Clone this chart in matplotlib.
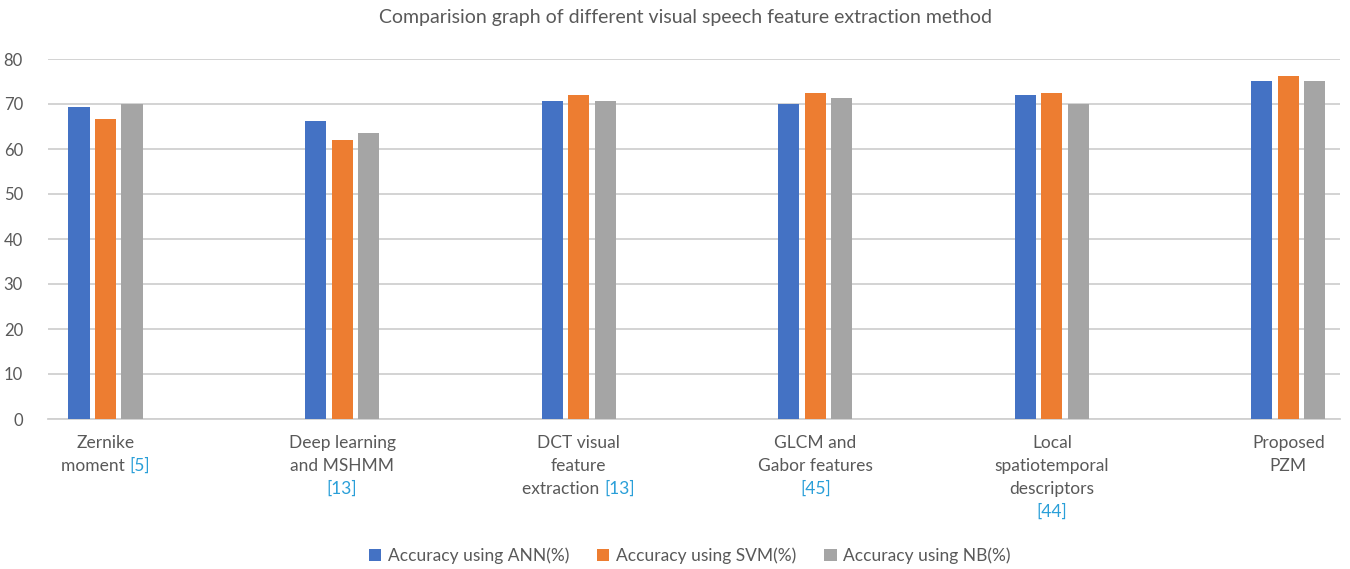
import re
import matplotlib
matplotlib.use("Agg")
import matplotlib.pyplot as plt
import matplotlib.transforms as mtransforms
import numpy as np

categories = [
    "Zernike\nmoment [5]",
    "Deep learning\nand MSHMM\n[13]",
    "DCT visual\nfeature\nextraction [13]",
    "GLCM and\nGabor features\n[45]",
    "Local\nspatiotemporal\ndescriptors\n[44]",
    "Proposed\nPZM",
]
series_names = ["Accuracy using ANN(%)", "Accuracy using SVM(%)", "Accuracy using NB(%)"]
ann = [69.3, 66.2, 70.7, 70.0, 72.0, 75.1]
svm = [66.7, 62.0, 72.0, 72.4, 72.4, 76.2]
nb = [70.0, 63.6, 70.7, 71.3, 70.0, 75.1]
yticks = [0, 10, 20, 30, 40, 50, 60, 70, 80]

colors = ["#4472C4", "#ED7D31", "#A5A5A5"]
text_gray = "#595959"
cite_blue = "#2A9FD8"

plt.rcParams["font.family"] = ["Lato", "DejaVu Sans"]

fig = plt.figure(figsize=(13.5, 5.69), dpi=100)
ax = fig.add_axes([48 / 1350, 1 - 419 / 569, 1292 / 1350, 360 / 569])

x = np.arange(len(categories))
width = 0.089
step = 0.112
for i, (vals, name) in enumerate(zip([ann, svm, nb], series_names)):
    ax.bar(x + (i - 1) * step, vals, width, color=colors[i], label=name, zorder=3)

ax.set_ylim(0, 80)
ax.set_xlim(-0.243, 5.218)
ax.set_yticks(yticks)
ax.set_xticks([])
ax.yaxis.grid(True, color="#D0D0D0", linewidth=1.3, zorder=0)
ax.tick_params(axis="y", length=0, pad=18, labelsize=12, labelcolor=text_gray)
for lbl in ax.get_yticklabels():
    lbl.set_horizontalalignment("right")
for side in ["top", "right", "left"]:
    ax.spines[side].set_visible(False)
ax.spines["bottom"].set_color("#D0D0D0")
ax.spines["bottom"].set_linewidth(1.3)

# category labels with coloured citations
renderer = fig.canvas.get_renderer()
line_h = 23
fs = 12.5
for xi, cat in enumerate(categories):
    for li, line in enumerate(cat.split("\n")):
        parts = re.split(r"(\[\d+\])", line)
        parts = [p for p in parts if p]
        widths = []
        for p in parts:
            t = fig.text(0, 0, p, fontsize=fs)
            widths.append(t.get_window_extent(renderer).width)
            t.remove()
        total = sum(widths)
        dx = -total / 2
        for p, w in zip(parts, widths):
            col = cite_blue if p.startswith("[") else text_gray
            tr = mtransforms.offset_copy(ax.get_xaxis_transform(), fig=fig,
                                         x=dx, y=-24 - li * line_h, units="dots")
            ax.text(xi, 0, p, transform=tr, fontsize=fs, color=col,
                    ha="left", va="center", clip_on=False)
            dx += w

fig.text(685.5 / 1350, 1 - 18 / 569,
         "Comparision graph of different visual speech feature extraction method",
         ha="center", va="center", fontsize=14, color=text_gray)

fig.legend(loc="center", bbox_to_anchor=(690 / 1350, 1 - 556 / 569), ncol=3,
           frameon=False, fontsize=12.5, labelcolor=text_gray,
           handlelength=0.7, handleheight=0.7, handletextpad=0.4, columnspacing=1.6)

fig.savefig("out.png", dpi=100)
